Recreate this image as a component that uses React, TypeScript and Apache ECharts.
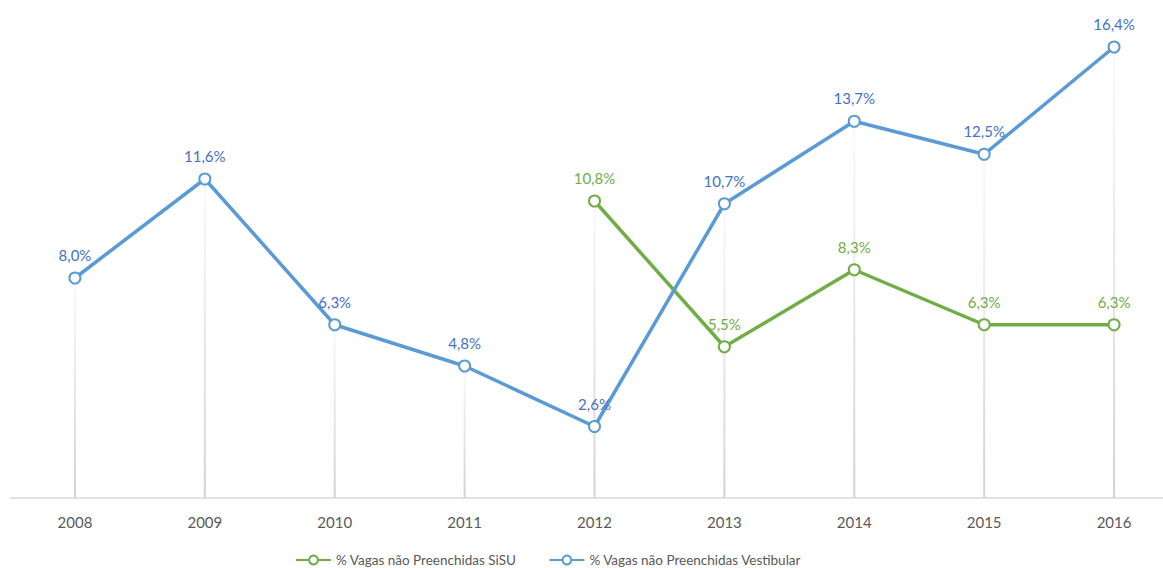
import React, { useEffect, useRef } from "react";
import * as echarts from "echarts";

const years = ["2008", "2009", "2010", "2011", "2012", "2013", "2014", "2015", "2016"];
const sisu: (number | null)[] = [null, null, null, null, 10.8, 5.5, 8.3, 6.3, 6.3];
const vestibular: number[] = [8.0, 11.6, 6.3, 4.8, 2.6, 10.7, 13.7, 12.5, 16.4];
const sisuName = "% Vagas não Preenchidas SiSU";
const vestName = "% Vagas não Preenchidas Vestibular";

const fmt = (v: number) => v.toFixed(1).replace(".", ",") + "%";
const FONT = "Lato, 'Open Sans', sans-serif";

export default function App() {
  const ref = useRef<HTMLDivElement>(null);
  useEffect(() => {
    if (!ref.current) return;
    const chart = echarts.init(ref.current, null, { renderer: "svg" });
    const drops = years.map((_, i) => Math.max(vestibular[i], sisu[i] ?? 0));
    chart.setOption({
      animation: false,
      textStyle: { fontFamily: FONT },
      grid: { left: 10, right: 1, top: 3, bottom: 70, containLabel: false },
      legend: {
        data: [sisuName, vestName],
        top: 548,
        left: 290,
        itemWidth: 35,
        itemHeight: 11,
        itemGap: 32,
        textStyle: { fontFamily: FONT, fontSize: 13.5, color: "#595959" },
      },
      xAxis: {
        type: "category",
        data: years,
        boundaryGap: true,
        axisLine: { lineStyle: { color: "#d9d9d9", width: 1.5 } },
        axisTick: { show: false },
        axisLabel: { fontFamily: FONT, fontSize: 15, color: "#595959", margin: 16 },
      },
      yAxis: {
        type: "value",
        min: 0,
        max: 18,
        show: false,
        splitLine: { show: false },
      },
      series: [
        {
          name: "drop",
          type: "bar",
          data: drops,
          barWidth: 2,
          silent: true,
          z: 1,
          itemStyle: {
            color: new echarts.graphic.LinearGradient(0, 0, 0, 1, [
              { offset: 0, color: "rgba(217,217,217,0.15)" },
              { offset: 1, color: "rgba(210,210,210,1)" },
            ]),
          },
        },
        {
          name: sisuName,
          type: "line",
          data: sisu,
          z: 3,
          symbol: "emptyCircle",
          symbolSize: 11,
          lineStyle: { color: "#70AD47", width: 3.5 },
          itemStyle: { color: "#70AD47", borderWidth: 2.75 },
          label: {
            show: true,
            position: "top",
            distance: 9,
            color: "#70AD47",
            fontFamily: FONT,
            fontSize: 15,
            formatter: (p: any) => fmt(p.value),
          },
        },
        {
          name: vestName,
          type: "line",
          data: vestibular,
          z: 3,
          symbol: "emptyCircle",
          symbolSize: 11,
          lineStyle: { color: "#5B9BD5", width: 3.5 },
          itemStyle: { color: "#5B9BD5", borderWidth: 2.75 },
          label: {
            show: true,
            position: "top",
            distance: 9,
            color: "#4472C4",
            fontFamily: FONT,
            fontSize: 15,
            formatter: (p: any) => fmt(p.value),
          },
        },
      ],
    });
    return () => chart.dispose();
  }, []);
  return (
    <div style={{ position: "absolute", left: 0, top: 0, width: 1163, height: 568, overflow: "hidden", background: "#fff" }}>
      <div ref={ref} style={{ width: 1180, height: 568 }} />
    </div>
  );
}
